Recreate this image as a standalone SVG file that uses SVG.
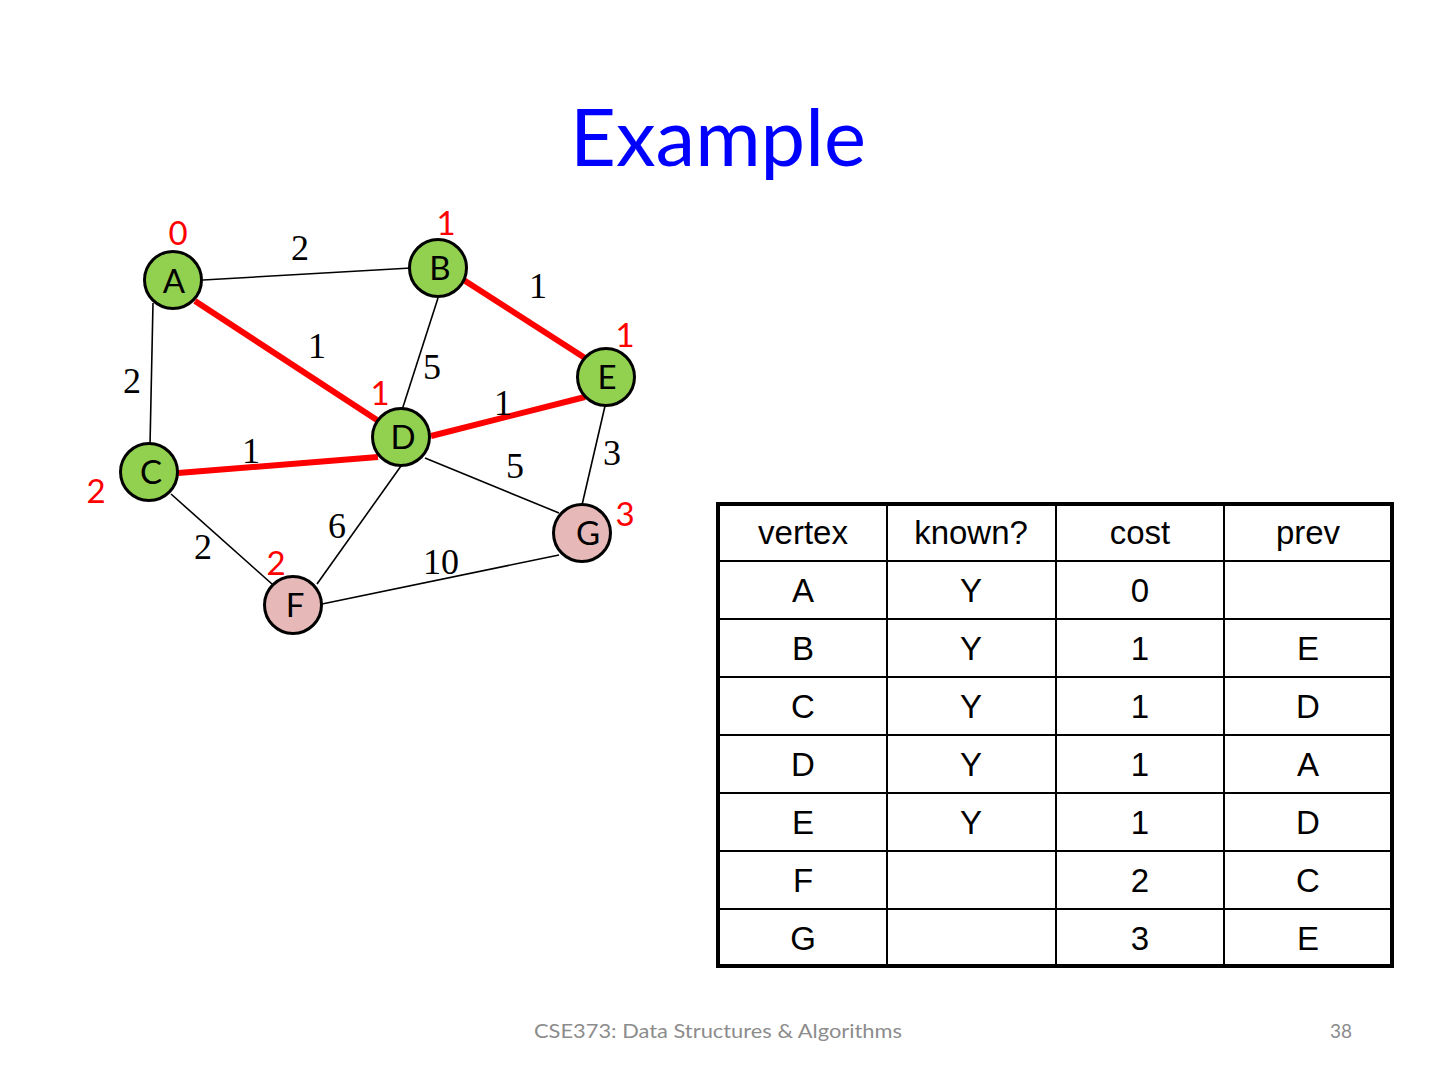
<svg xmlns="http://www.w3.org/2000/svg" width="1440" height="1080" viewBox="0 0 1440 1080">
<style>
.title{font-family:Lato,"Open Sans",sans-serif;font-size:80px;fill:#0000FF;text-anchor:middle}
.foot{font-family:Lato,"Open Sans",sans-serif;font-size:19px;fill:#8C8C8C}
.edge{stroke:#000;stroke-width:1.6;fill:none}
.hot{stroke:#FF0000;stroke-width:6;fill:none}
.w{font-family:"Liberation Serif","Times New Roman",serif;font-size:36px;fill:#000;text-anchor:middle}
.d{font-family:Lato,"Open Sans",sans-serif;font-size:33px;fill:#FF0000;text-anchor:middle}
.known circle{fill:#92D050;stroke:#000;stroke-width:3}
.pend circle{fill:#E6B9B8;stroke:#000;stroke-width:3}
.lbl{font-family:Lato,"Open Sans",sans-serif;font-size:33px;fill:#000;text-anchor:middle}
.cell{font-family:"Liberation Sans",Arial,sans-serif;font-size:33px;fill:#000;text-anchor:middle}
.grid{stroke:#000;stroke-width:2;fill:none}
.outer{stroke:#000;stroke-width:4;fill:none}
</style>
<rect width="1440" height="1080" fill="#fff"/>
<text class="title" x="718" y="166" textLength="296" lengthAdjust="spacingAndGlyphs">Example</text>

<g id="connectors">
<line class="edge" x1="203" y1="280" x2="411" y2="268"/>
<line class="edge" x1="153" y1="303" x2="150" y2="445"/>
<line class="edge" x1="438" y1="298" x2="402" y2="410"/>
<line class="edge" x1="605" y1="406" x2="582" y2="505"/>
<line class="edge" x1="425" y1="458" x2="559" y2="513"/>
<line class="edge" x1="401" y1="466" x2="317" y2="584"/>
<line class="edge" x1="171" y1="494" x2="272" y2="584"/>
<line class="edge" x1="322" y1="604" x2="559" y2="555"/>
<line class="hot" x1="195" y1="301" x2="380" y2="422"/>
<line class="hot" x1="459" y1="277" x2="585" y2="358"/>
<line class="hot" x1="431" y1="436" x2="585" y2="397"/>
<line class="hot" x1="178" y1="473" x2="378" y2="457"/>
<text class="w" x="300" y="260">2</text>
<text class="w" x="132" y="393">2</text>
<text class="w" x="317" y="358">1</text>
<text class="w" x="538" y="298">1</text>
<text class="w" x="432" y="379">5</text>
<text class="w" x="503" y="415">1</text>
<text class="w" x="251" y="463">1</text>
<text class="w" x="515" y="478">5</text>
<text class="w" x="612" y="465">3</text>
<text class="w" x="337" y="538">6</text>
<text class="w" x="203" y="559">2</text>
<text class="w" x="441" y="574">10</text>
</g>

<g id="node-A" class="known"><circle cx="173" cy="280" r="28.5"/><text class="lbl" x="174" y="293">A</text><text class="d" x="178" y="245">0</text></g>
<g id="node-B" class="known"><circle cx="438" cy="268" r="28.5"/><text class="lbl" x="440" y="280">B</text><text class="d" x="446" y="235">1</text></g>
<g id="node-E" class="known"><circle cx="606" cy="377" r="28.5"/><text class="lbl" x="607" y="389">E</text><text class="d" x="625" y="347">1</text></g>
<g id="node-D" class="known"><circle cx="401" cy="437" r="28.5"/><text class="lbl" x="403" y="449">D</text><text class="d" x="380" y="405">1</text></g>
<g id="node-C" class="known"><circle cx="149" cy="472" r="28.5"/><text class="lbl" x="151" y="484">C</text><text class="d" x="96" y="503">2</text></g>
<g id="node-F" class="pend"><circle cx="293" cy="605" r="28.5"/><text class="lbl" x="295" y="617">F</text><text class="d" x="276" y="575">2</text></g>
<g id="node-G" class="pend"><circle cx="582" cy="533" r="28.5"/><text class="lbl" x="588" y="545">G</text><text class="d" x="625" y="526">3</text></g>

<g id="table">
<rect class="outer" x="718" y="504" width="674" height="462"/>
<line class="grid" x1="887" y1="504" x2="887" y2="966"/>
<line class="grid" x1="1056" y1="504" x2="1056" y2="966"/>
<line class="grid" x1="1224" y1="504" x2="1224" y2="966"/>
<line class="grid" x1="718" y1="561" x2="1392" y2="561"/>
<line class="grid" x1="718" y1="619" x2="1392" y2="619"/>
<line class="grid" x1="718" y1="677" x2="1392" y2="677"/>
<line class="grid" x1="718" y1="735" x2="1392" y2="735"/>
<line class="grid" x1="718" y1="793" x2="1392" y2="793"/>
<line class="grid" x1="718" y1="851" x2="1392" y2="851"/>
<line class="grid" x1="718" y1="909" x2="1392" y2="909"/>
<g class="cell">
<text class="cell" x="803" y="544">vertex</text><text class="cell" x="971" y="544">known?</text><text class="cell" x="1140" y="544">cost</text><text class="cell" x="1308" y="544">prev</text>
<text class="cell" x="803" y="602">A</text><text class="cell" x="971" y="602">Y</text><text class="cell" x="1140" y="602">0</text>
<text class="cell" x="803" y="660">B</text><text class="cell" x="971" y="660">Y</text><text class="cell" x="1140" y="660">1</text><text class="cell" x="1308" y="660">E</text>
<text class="cell" x="803" y="718">C</text><text class="cell" x="971" y="718">Y</text><text class="cell" x="1140" y="718">1</text><text class="cell" x="1308" y="718">D</text>
<text class="cell" x="803" y="776">D</text><text class="cell" x="971" y="776">Y</text><text class="cell" x="1140" y="776">1</text><text class="cell" x="1308" y="776">A</text>
<text class="cell" x="803" y="834">E</text><text class="cell" x="971" y="834">Y</text><text class="cell" x="1140" y="834">1</text><text class="cell" x="1308" y="834">D</text>
<text class="cell" x="803" y="892">F</text><text class="cell" x="1140" y="892">2</text><text class="cell" x="1308" y="892">C</text>
<text class="cell" x="803" y="950">G</text><text class="cell" x="1140" y="950">3</text><text class="cell" x="1308" y="950">E</text>
</g>
</g>

<text class="foot" x="718" y="1038" text-anchor="middle" textLength="368" lengthAdjust="spacingAndGlyphs">CSE373: Data Structures &amp; Algorithms</text>
<text class="foot" x="1352" y="1038" text-anchor="end">38</text>
</svg>
